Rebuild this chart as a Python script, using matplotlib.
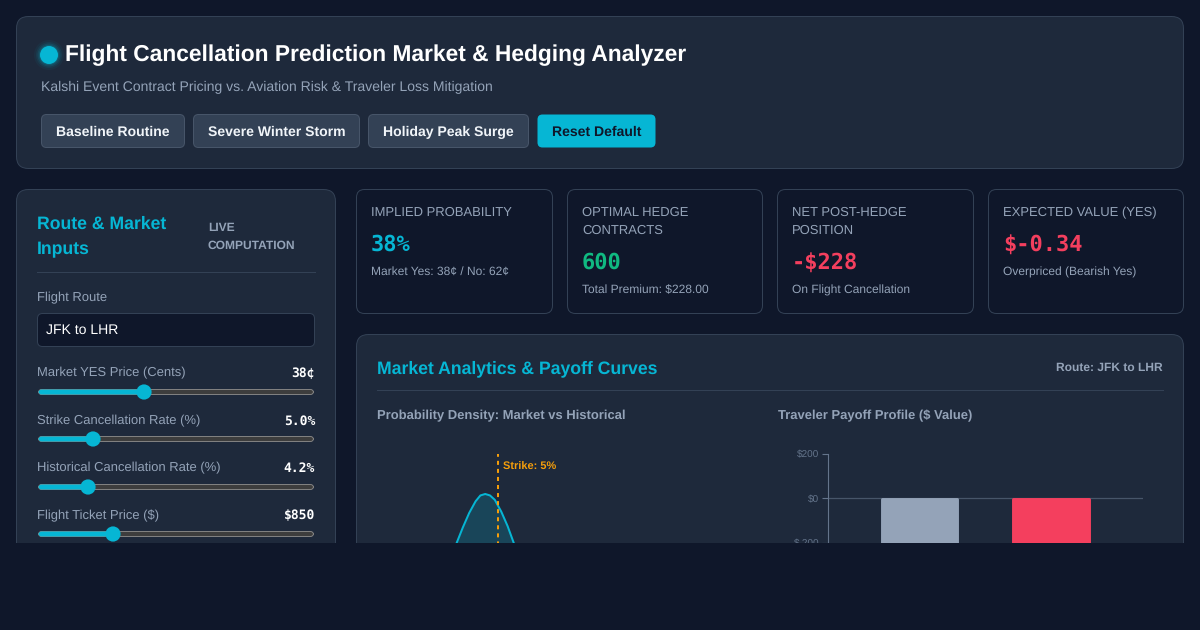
import matplotlib
matplotlib.use('Agg')
import matplotlib.pyplot as plt
from matplotlib.patches import FancyBboxPatch, Rectangle, Circle

W, H = 1200, 630
BG = '#0f172a'
PANEL = '#1e293b'
BORDER = '#334155'
CYAN = '#06b6d4'
GREY = '#94a3b8'
GREEN = '#10b981'
RED = '#f43f5e'
AMBER = '#f59e0b'

plt.rcParams['font.family'] = ['Liberation Sans', 'DejaVu Sans']
plt.rcParams['text.hinting'] = 'no_hinting'

# top buttons
button_labels = ['Baseline Routine', 'Severe Winter Storm', 'Holiday Peak Surge', 'Reset Default']

# slider rows
slider_labels = ['Market YES Price (Cents)', 'Strike Cancellation Rate (%)',
                 'Historical Cancellation Rate (%)', 'Flight Ticket Price ($)']
slider_values = ['38¢', '5.0%', '4.2%', '$850']

# stat cards
card_titles = [['IMPLIED PROBABILITY'], ['OPTIMAL HEDGE', 'CONTRACTS'],
               ['NET POST-HEDGE', 'POSITION'], ['EXPECTED VALUE (YES)']]
card_values = ['38%', '600', '-$228', '$-0.34']
card_subs = ['Market Yes: 38¢ / No: 62¢', 'Total Premium: $228.00',
             'On Flight Cancellation', 'Overpriced (Bearish Yes)']

# density curve (only the top of it is visible)
rate = [2.0, 2.4, 2.8, 3.2, 3.6, 3.9, 4.2, 4.5, 4.8, 5.2, 5.6, 6.0, 6.4]
density = [52, 66, 77, 87, 95, 99, 100, 99, 96, 88, 78, 66, 53]
strike = 5

# payoff bars
payoff_values = [-850, -228]
payoff_colors = ['#94a3b8', '#f43f5e']
payoff_ticks = [200, 0, -200, -400]
payoff_ticklabels = ['$200', '$0', '$-200', '$-400']


def axes_px(x0, y0, x1, y1, z):
    return fig.add_axes([x0 / W, 1 - y1 / H, (x1 - x0) / W, (y1 - y0) / H], zorder=z)


def box(x0, y0, x1, y1, r, fc, ec=None):
    # edge sits on the pixel centre, like a 1px css border
    x0, y0, x1, y1 = x0 + 0.5, y0 + 0.5, x1 - 0.5, y1 - 0.5
    ax.add_patch(FancyBboxPatch((x0 + r, y0 + r), x1 - x0 - 2 * r, y1 - y0 - 2 * r,
                                boxstyle='round,pad=%d,rounding_size=%d' % (r, r),
                                fc=fc, ec=ec if ec else 'none', lw=0.72))


def txt(x, y, s, px, color=GREY, weight='normal', ha='left', va='center', **kw):
    ax.text(x, y + 1, s, fontsize=px * 0.72, color=color, fontweight=weight, ha=ha, va=va, **kw)


fig = plt.figure(figsize=(12, 6.3), dpi=100, facecolor=BG)

# page, panels and text all in pixel coordinates
ax = axes_px(0, 0, W, H, 0)
ax.set_xlim(0, W)
ax.set_ylim(H, 0)
ax.axis('off')

# header
box(16, 16, 1184, 169, 12, PANEL, BORDER)
for r, a in [(15, 0.05), (13, 0.08), (11.5, 0.12), (10, 0.18)]:
    ax.add_patch(Circle((49, 55), r, fc=CYAN, ec='none', alpha=a))
ax.add_patch(Circle((49, 55), 9, fc=CYAN, ec='none'))
txt(65, 54, 'Flight Cancellation Prediction Market & Hedging Analyzer', 22.8, 'white', 'bold')
txt(41, 86.5, 'Kalshi Event Contract Pricing vs. Aviation Risk & Traveler Loss Mitigation', 14)
btn_x = [(41, 185), (193, 360), (368, 529), (537, 656)]
for i, (lab, (x0, x1)) in enumerate(zip(button_labels, btn_x)):
    active = i == 3
    box(x0, 114, x1, 148, 5, CYAN if active else BORDER, None if active else '#475569')
    txt((x0 + x1) / 2, 131, lab, 14, BG if active else '#f1f5f9', 'bold', ha='center')

# left panel
box(16, 189, 336, 640, 12, PANEL, BORDER)
txt(37, 223, 'Route & Market', 17.6, CYAN, 'bold')
txt(37, 249, 'Inputs', 17.6, CYAN, 'bold')
txt(208, 226.5, 'LIVE', 12, GREY, 'bold')
txt(208, 244.5, 'COMPUTATION', 12, GREY, 'bold')
ax.plot([37, 315], [271.5, 271.5], color=BORDER, lw=0.72)
txt(37, 297, 'Flight Route', 13)
box(37, 313, 315, 347, 5, BG, BORDER)
txt(46, 329.5, 'JFK to LHR', 14, 'white')

row_y = [372, 420, 467, 515]
track_y = [392, 439, 487, 534]
thumb_x = [144, 93, 88, 113]
for lab, val, y, ty, tx in zip(slider_labels, slider_values, row_y, track_y, thumb_x):
    txt(37, y, lab, 13)
    txt(315, y, val, 13, 'white', 'bold', ha='right', family='DejaVu Sans Mono')
    box(38, ty - 3, 314, ty + 3, 3, '#3d3d3d', '#808080')
    box(38, ty - 3, tx, ty + 3, 3, CYAN)
    ax.add_patch(Circle((tx, ty), 7.6, fc=CYAN, ec='none', zorder=3))

# stat cards
card_x = [(356, 553), (567, 763), (777, 974), (988, 1184)]
card_colors = [CYAN, GREEN, RED, RED]
for (x0, x1), title, val, sub, c in zip(card_x, card_titles, card_values, card_subs, card_colors):
    box(x0, 189, x1, 314, 8, BG, BORDER)
    for j, line in enumerate(title):
        txt(x0 + 15, 212 + 18 * j, line, 13)
    shift = 18 * (len(title) - 1)
    txt(x0 + 15, 243.5 + shift, val, 22, c, 'bold', family='DejaVu Sans Mono')
    txt(x0 + 15, 271 + shift, sub, 12)

# analytics panel
box(356, 334, 1184, 640, 12, PANEL, BORDER)
txt(377, 367.5, 'Market Analytics & Payoff Curves', 17.6, CYAN, 'bold')
txt(1163, 367, 'Route: JFK to LHR', 12, GREY, 'bold', ha='right')
ax.plot([377, 1163], [389.5, 389.5], color=BORDER, lw=0.72)
txt(377, 415, 'Probability Density: Market vs Historical', 13, GREY, 'bold')
txt(778, 415, 'Traveler Payoff Profile ($ Value)', 13, GREY, 'bold')

# density chart
ax1 = axes_px(418, 454, 738, 630, 1)
ax1.set_xlim(0, 20)
ax1.set_ylim(6.8, 127.4)
ax1.patch.set_alpha(0)
ax1.axis('off')
ax1.fill_between(rate, density, 0, color=CYAN, alpha=0.2, lw=0)
ax1.plot(rate, density, color=CYAN, lw=1.45)
ax1.axvline(strike, color=AMBER, lw=1.45, ls=(2, (2, 2)))
ax1.text(strike + 0.31, 118.5, 'Strike: %d%%' % strike, color=AMBER, fontsize=11 * 0.72,
         fontweight='bold', va='center')

# payoff chart
ax2 = axes_px(828, 454, 1143, 630, 1)
ax2.set_xlim(-0.696, 1.7)
ax2.set_ylim(-594.6, 200)
ax2.patch.set_alpha(0)
ax2.axhline(0, color='#475569', lw=0.9, zorder=1)
# small bottom offset so the thick round edge stays under the zero line
ax2.bar(range(len(payoff_values)), payoff_values, bottom=-5, width=0.575, color=payoff_colors,
        edgecolor=payoff_colors, lw=2.1, joinstyle='round', zorder=2)
for s in ['top', 'right', 'bottom']:
    ax2.spines[s].set_visible(False)
ax2.spines['left'].set_color('#64748b')
ax2.spines['left'].set_linewidth(0.8)
ax2.set_xticks([])
ax2.set_yticks(payoff_ticks)
ax2.set_yticklabels(payoff_ticklabels)
ax2.tick_params(axis='y', colors='#64748b', labelsize=10 * 0.72, length=4.3, width=0.8, pad=2)

# the page is cut off at y=543
top = axes_px(0, 0, W, H, 2)
top.set_xlim(0, W)
top.set_ylim(H, 0)
top.axis('off')
top.add_patch(Rectangle((0, 543), W, H - 543, fc=BG, ec='none'))

fig.savefig('out.png', dpi=100, facecolor=BG)
